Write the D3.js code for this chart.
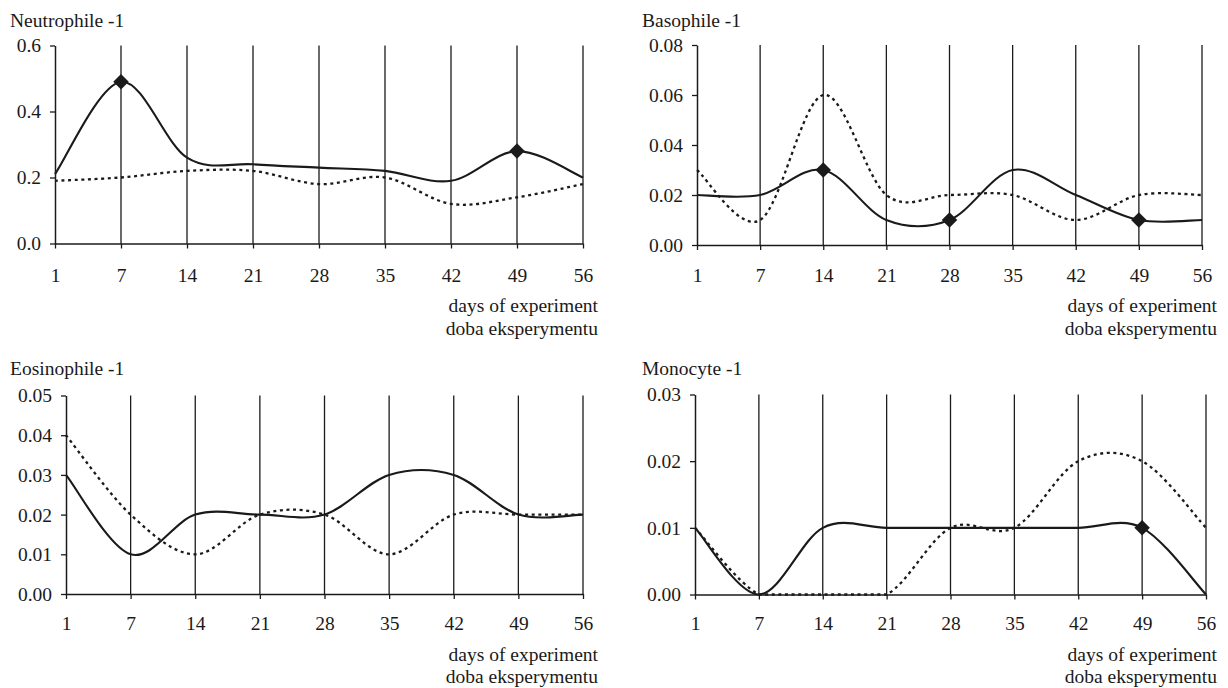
<!DOCTYPE html>
<html>
<head>
<meta charset="utf-8">
<script src="https://cdn.jsdelivr.net/npm/d3@7"></script>
<style>
  body { margin: 0; background: #fff; }
  text { font-family: "Liberation Serif", "Times New Roman", serif; fill: #1a1a1a; }
</style>
</head>
<body>
<svg id="chart" width="1228" height="688"></svg>
<script>
// days of experiment (categories)
const days = ["1", "7", "14", "21", "28", "35", "42", "49", "56"];

// Neutrophile -1
const neutroSolid  = [0.21, 0.49, 0.26, 0.24, 0.23, 0.22, 0.19, 0.28, 0.20];
const neutroDashed = [0.19, 0.20, 0.22, 0.22, 0.18, 0.20, 0.12, 0.14, 0.18];
const neutroMarks  = ["7", "49"];
const neutroTicks  = [0, 0.2, 0.4, 0.6];

// Basophile -1
const basoSolid  = [0.02, 0.02, 0.03, 0.01, 0.01, 0.03, 0.02, 0.01, 0.01];
const basoDashed = [0.03, 0.01, 0.06, 0.02, 0.02, 0.02, 0.01, 0.02, 0.02];
const basoMarks  = ["14", "28", "49"];
const basoTicks  = [0, 0.02, 0.04, 0.06, 0.08];

// Eosinophile -1
const eosinSolid  = [0.03, 0.01, 0.02, 0.02, 0.02, 0.03, 0.03, 0.02, 0.02];
const eosinDashed = [0.04, 0.02, 0.01, 0.02, 0.02, 0.01, 0.02, 0.02, 0.02];
const eosinMarks  = [];
const eosinTicks  = [0, 0.01, 0.02, 0.03, 0.04, 0.05];

// Monocyte -1
const monoSolid  = [0.01, 0.00, 0.01, 0.01, 0.01, 0.01, 0.01, 0.01, 0.00];
const monoDashed = [0.01, 0.00, 0.00, 0.00, 0.01, 0.01, 0.02, 0.02, 0.01];
const monoMarks  = ["49"];
const monoTicks  = [0, 0.01, 0.02, 0.03];

const xLabel1 = "days of experiment";
const xLabel2 = "doba eksperymentu";

const panels = [
  { title: "Neutrophile -1", solid: neutroSolid, dashed: neutroDashed, marks: neutroMarks, ticks: neutroTicks, fmt: ".1f" },
  { title: "Basophile -1",   solid: basoSolid,   dashed: basoDashed,   marks: basoMarks,   ticks: basoTicks,   fmt: ".2f" },
  { title: "Eosinophile -1", solid: eosinSolid,  dashed: eosinDashed,  marks: eosinMarks,  ticks: eosinTicks,  fmt: ".2f" },
  { title: "Monocyte -1",    solid: monoSolid,   dashed: monoDashed,   marks: monoMarks,   ticks: monoTicks,   fmt: ".2f" }
];

// layout of each panel (plot box + text positions)
const layout = [
  { left: 55,  right: 583,  top: 45.5,  bottom: 243.5, titleX: 10,  titleY: 27,  labelY: 276, lab1Y: 306, lab2Y: 329, labRight: 598 },
  { left: 697, right: 1202, top: 45,    bottom: 245,   titleX: 642, titleY: 27,  labelY: 276, lab1Y: 306, lab2Y: 329, labRight: 1217 },
  { left: 66,  right: 583,  top: 395.5, bottom: 594,   titleX: 10,  titleY: 375, labelY: 624, lab1Y: 655, lab2Y: 677, labRight: 598 },
  { left: 695, right: 1206, top: 394.5, bottom: 594.5, titleX: 642, titleY: 375, labelY: 624, lab1Y: 655, lab2Y: 677, labRight: 1217 }
];

const fontSize = "19.5px";
const ink = "#1a1a1a";
const svg = d3.select("#chart");

// Excel-like smoothed line: uniform Catmull-Rom beziers, control points kept inside the plot area
function smoothClamped(yTop, yBottom) {
  return function(context) {
    let pts;
    return {
      areaStart() {}, areaEnd() {},
      lineStart() { pts = []; },
      point(x, y) { pts.push([+x, +y]); },
      lineEnd() {
        const n = pts.length;
        if (!n) return;
        const cl = v => Math.max(yTop, Math.min(yBottom, v));
        context.moveTo(pts[0][0], pts[0][1]);
        for (let i = 0; i < n - 1; i++) {
          const p0 = pts[Math.max(i - 1, 0)], p1 = pts[i], p2 = pts[i + 1], p3 = pts[Math.min(i + 2, n - 1)];
          context.bezierCurveTo(
            p1[0] + (p2[0] - p0[0]) / 6, cl(p1[1] + (p2[1] - p0[1]) / 6),
            p2[0] - (p3[0] - p1[0]) / 6, cl(p2[1] - (p3[1] - p1[1]) / 6),
            p2[0], p2[1]);
        }
      }
    };
  };
}

panels.forEach((p, k) => {
  const L = layout[k];
  const g = svg.append("g");

  const x = d3.scalePoint().domain(days).range([L.left, L.right]);
  const y = d3.scaleLinear().domain([0, d3.max(p.ticks)]).range([L.bottom, L.top]);

  // vertical grid lines
  g.selectAll("line.grid")
    .data(days.slice(1))
    .enter().append("line")
    .attr("class", "grid")
    .attr("x1", d => x(d)).attr("x2", d => x(d))
    .attr("y1", y(d3.max(p.ticks))).attr("y2", y(0))
    .attr("stroke", ink).attr("stroke-width", 1.3);

  // y axis
  const yAxis = g.append("g")
    .attr("transform", `translate(${L.left},0)`)
    .call(d3.axisLeft(y).tickValues(p.ticks).tickFormat(d3.format(p.fmt)).tickSize(5).tickSizeOuter(0).tickPadding(9));
  yAxis.select(".domain").attr("stroke", ink).attr("stroke-width", 1.5);
  yAxis.selectAll(".tick line").attr("stroke", ink).attr("stroke-width", 1.3);
  yAxis.selectAll("text").style("font-size", fontSize).attr("fill", ink).attr("dy", "0.33em");

  // x axis
  const xAxis = g.append("g")
    .attr("transform", `translate(0,${L.bottom})`)
    .call(d3.axisBottom(x).tickSize(5).tickSizeOuter(0));
  xAxis.select(".domain").attr("stroke", ink).attr("stroke-width", 1.5);
  xAxis.selectAll(".tick line").attr("stroke", ink).attr("stroke-width", 1.3);
  xAxis.selectAll("text").style("font-size", fontSize).attr("fill", ink)
    .attr("y", L.labelY - L.bottom).attr("dy", "0.33em");

  const line = d3.line()
    .x((d, i) => x(days[i]))
    .y(d => y(d))
    .curve(smoothClamped(L.top, L.bottom));

  g.append("path")
    .datum(p.dashed)
    .attr("d", line)
    .attr("fill", "none")
    .attr("stroke", ink)
    .attr("stroke-width", 2.3)
    .attr("stroke-dasharray", "3 3.6");

  g.append("path")
    .datum(p.solid)
    .attr("d", line)
    .attr("fill", "none")
    .attr("stroke", ink)
    .attr("stroke-width", 2.1);

  // diamond markers on the solid series
  g.selectAll("path.mark")
    .data(p.marks)
    .enter().append("path")
    .attr("class", "mark")
    .attr("d", d3.symbol(d3.symbolSquare, 120))
    .attr("transform", d => `translate(${x(d)},${y(p.solid[days.indexOf(d)])}) rotate(45)`)
    .attr("fill", ink);

  g.append("text")
    .attr("x", L.titleX).attr("y", L.titleY)
    .style("font-size", fontSize)
    .text(p.title);

  g.append("text")
    .attr("x", L.labRight).attr("y", L.lab1Y).attr("dy", "0.33em")
    .attr("text-anchor", "end")
    .style("font-size", fontSize)
    .text(xLabel1);

  g.append("text")
    .attr("x", L.labRight).attr("y", L.lab2Y).attr("dy", "0.33em")
    .attr("text-anchor", "end")
    .style("font-size", fontSize)
    .text(xLabel2);
});
</script>
</body>
</html>
